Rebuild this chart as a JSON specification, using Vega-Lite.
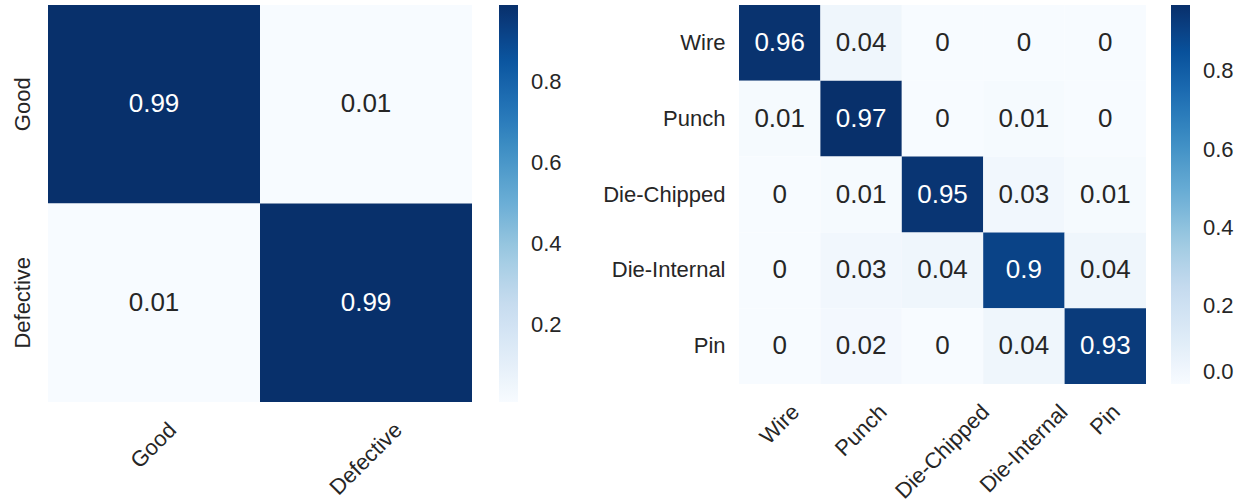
{
  "$schema": "https://vega.github.io/schema/vega-lite/v6.json",
  "background": "white",
  "padding": {"left": 11, "top": 5, "right": 0, "bottom": 0},
  "spacing": 40,
  "config": {
    "font": "Liberation Sans",
    "view": {"stroke": null},
    "axis": {"labelFontSize": 22, "labelColor": "#262626", "ticks": false, "domain": false, "grid": false, "title": null, "labelFont": "Liberation Sans"},
    "legend": {"gradientThickness": 19, "labelFontSize": 22, "labelColor": "#262626", "labelOffset": 13, "labelBaseline": "middle", "gradientStrokeWidth": 0, "padding": 0, "labelFont": "Liberation Sans"}
  },
  "resolve": {"scale": {"color": "independent"}, "legend": {"color": "independent"}},
  "hconcat": [
    {
      "width": 424,
      "height": 397,
      "data": {"values": [
        {"actual": "Good", "predicted": "Good", "v": 0.99},
        {"actual": "Good", "predicted": "Defective", "v": 0.01},
        {"actual": "Defective", "predicted": "Good", "v": 0.01},
        {"actual": "Defective", "predicted": "Defective", "v": 0.99}
      ]},
      "encoding": {
        "x": {"field": "predicted", "type": "nominal", "sort": ["Good", "Defective"], "scale": {"paddingInner": 0, "paddingOuter": 0},
          "axis": {"labelAngle": -45, "labelAlign": "right", "labelBaseline": "middle", "labelPadding": 24,
            "labelOffset": {"condition": {"test": "datum.value === 'Good'", "value": 18.6}, "value": 32.4}}},
        "y": {"field": "actual", "type": "nominal", "sort": ["Good", "Defective"], "scale": {"paddingInner": 0, "paddingOuter": 0},
          "axis": {"labelAngle": -90, "labelAlign": "center", "labelBaseline": "bottom", "labelPadding": 14}}
      },
      "layer": [
        {"mark": {"type": "rect"},
         "encoding": {"color": {"field": "v", "type": "quantitative",
           "scale": {"domain": [0.01, 0.1325, 0.255, 0.3775, 0.5, 0.6225, 0.745, 0.8675, 0.99],
                     "range": ["#f7fbff", "#deebf7", "#c6dbef", "#9ecae1", "#6baed6", "#4292c6", "#2171b5", "#08519c", "#08306b"]},
           "legend": {"title": null, "direction": "vertical", "gradientLength": 397, "gradientThickness": 19, "offset": 27, "labelOffset": 13, "labelBaseline": "middle", "labelFontSize": 22, "values": [0.2, 0.4, 0.6, 0.8], "format": ".1f"}}}},
        {"mark": {"type": "text", "fontSize": 26, "font": "Liberation Sans"},
         "encoding": {"text": {"field": "v", "type": "quantitative", "format": "~g"},
           "color": {"condition": {"test": "datum.v > 0.5", "value": "white"}, "value": "#262626"}}}
      ]
    },
    {
      "width": 407,
      "height": 379,
      "data": {"values": [
        {"actual": "Wire", "predicted": "Wire", "v": 0.96},
        {"actual": "Wire", "predicted": "Punch", "v": 0.04},
        {"actual": "Wire", "predicted": "Die-Chipped", "v": 0},
        {"actual": "Wire", "predicted": "Die-Internal", "v": 0},
        {"actual": "Wire", "predicted": "Pin", "v": 0},
        {"actual": "Punch", "predicted": "Wire", "v": 0.01},
        {"actual": "Punch", "predicted": "Punch", "v": 0.97},
        {"actual": "Punch", "predicted": "Die-Chipped", "v": 0},
        {"actual": "Punch", "predicted": "Die-Internal", "v": 0.01},
        {"actual": "Punch", "predicted": "Pin", "v": 0},
        {"actual": "Die-Chipped", "predicted": "Wire", "v": 0},
        {"actual": "Die-Chipped", "predicted": "Punch", "v": 0.01},
        {"actual": "Die-Chipped", "predicted": "Die-Chipped", "v": 0.95},
        {"actual": "Die-Chipped", "predicted": "Die-Internal", "v": 0.03},
        {"actual": "Die-Chipped", "predicted": "Pin", "v": 0.01},
        {"actual": "Die-Internal", "predicted": "Wire", "v": 0},
        {"actual": "Die-Internal", "predicted": "Punch", "v": 0.03},
        {"actual": "Die-Internal", "predicted": "Die-Chipped", "v": 0.04},
        {"actual": "Die-Internal", "predicted": "Die-Internal", "v": 0.9},
        {"actual": "Die-Internal", "predicted": "Pin", "v": 0.04},
        {"actual": "Pin", "predicted": "Wire", "v": 0},
        {"actual": "Pin", "predicted": "Punch", "v": 0.02},
        {"actual": "Pin", "predicted": "Die-Chipped", "v": 0},
        {"actual": "Pin", "predicted": "Die-Internal", "v": 0.04},
        {"actual": "Pin", "predicted": "Pin", "v": 0.93}
      ]},
      "encoding": {
        "x": {"field": "predicted", "type": "nominal", "sort": ["Wire", "Punch", "Die-Chipped", "Die-Internal", "Pin"], "scale": {"paddingInner": 0, "paddingOuter": 0},
          "axis": {"labelAngle": -45, "labelAlign": "right", "labelBaseline": "middle", "labelPadding": 24,
            "labelOffset": {"condition": [
              {"test": "datum.value === 'Wire'", "value": 16},
              {"test": "datum.value === 'Punch'", "value": 22.1},
              {"test": "datum.value === 'Die-Chipped'", "value": 43.2},
              {"test": "datum.value === 'Die-Internal'", "value": 40.2}
            ], "value": 11.2}}},
        "y": {"field": "actual", "type": "nominal", "sort": ["Wire", "Punch", "Die-Chipped", "Die-Internal", "Pin"], "scale": {"paddingInner": 0, "paddingOuter": 0},
          "axis": {"labelAngle": 0, "labelAlign": "right", "labelBaseline": "middle", "labelPadding": 14}}
      },
      "layer": [
        {"mark": {"type": "rect"},
         "encoding": {"color": {"field": "v", "type": "quantitative",
           "scale": {"domain": [0, 0.12125, 0.2425, 0.36375, 0.485, 0.60625, 0.7275, 0.84875, 0.97],
                     "range": ["#f7fbff", "#deebf7", "#c6dbef", "#9ecae1", "#6baed6", "#4292c6", "#2171b5", "#08519c", "#08306b"]},
           "legend": {"title": null, "direction": "vertical", "gradientLength": 379, "gradientThickness": 19, "offset": 25, "labelOffset": 13, "labelBaseline": "middle", "labelFontSize": 22, "values": [0, 0.2, 0.4, 0.6, 0.8], "format": ".1f"}}}},
        {"mark": {"type": "text", "fontSize": 26, "font": "Liberation Sans"},
         "encoding": {"text": {"field": "v", "type": "quantitative", "format": "~g"},
           "color": {"condition": {"test": "datum.v > 0.5", "value": "white"}, "value": "#262626"}}}
      ]
    }
  ]
}
